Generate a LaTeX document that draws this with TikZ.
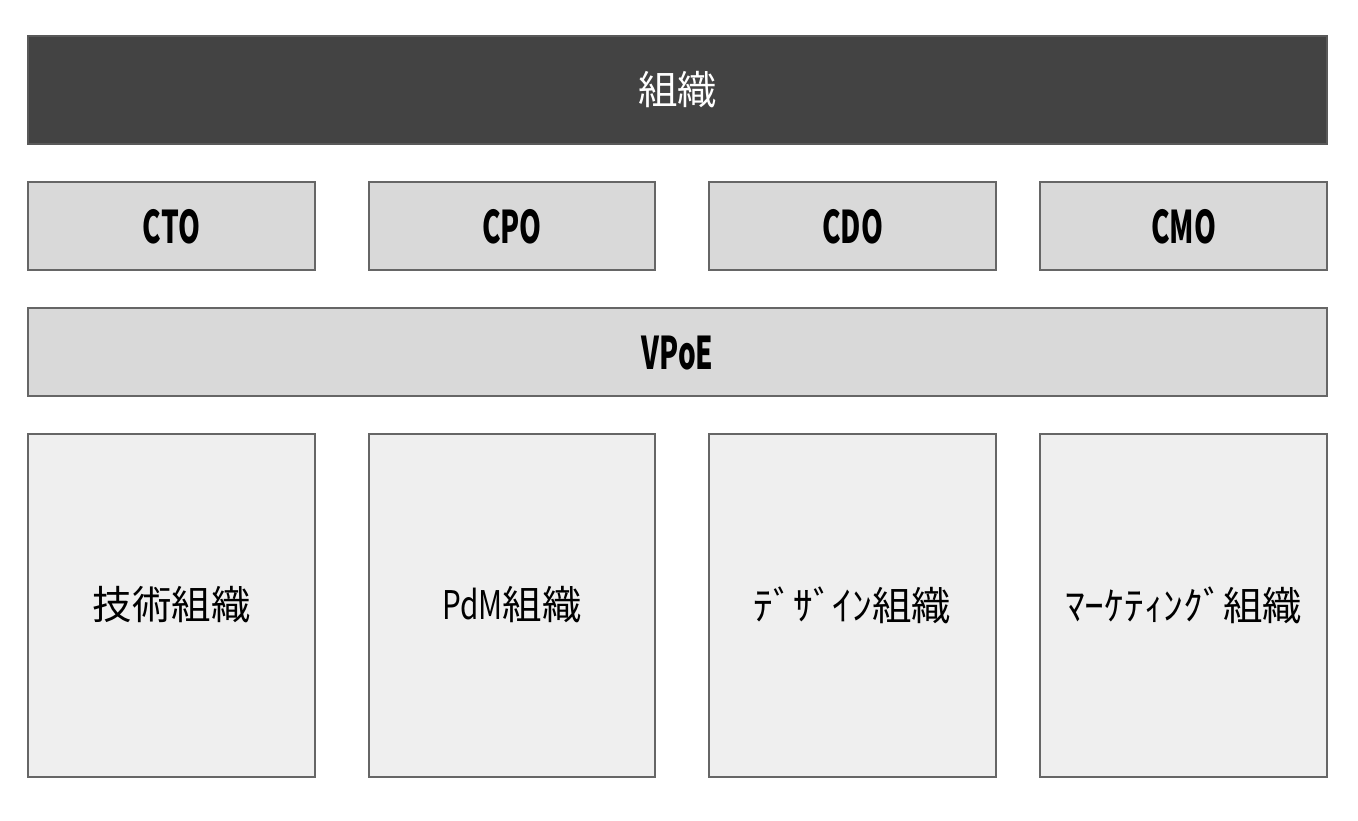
\documentclass[tikz,border=0pt]{standalone}
\usepackage{fontspec}
\setmainfont{Noto Sans CJK JP}
\definecolor{darkfill}{HTML}{434343}
\definecolor{darkline}{HTML}{595959}
\definecolor{midfill}{HTML}{D9D9D9}
\definecolor{lightfill}{HTML}{EFEFEF}
\definecolor{boxline}{HTML}{666666}
\newcommand{\narrow}[1]{\scalebox{0.62}[1]{#1}}
\begin{document}
\begin{tikzpicture}[x=1pt,y=-1pt,
  topbox/.style={draw=darkline,fill=darkfill,line width=1.5pt},
  midbox/.style={draw=boxline,fill=midfill,line width=1.5pt},
  lowbox/.style={draw=boxline,fill=lightfill,line width=1.5pt},
  jptext/.style={font=\fontsize{39.5}{42}\selectfont},
  lattext/.style={font=\fontsize{45}{48}\selectfont\bfseries}]
\useasboundingbox (0,0) rectangle (1358,820);
\fill[white] (0,0) rectangle (1358,820);
\draw[topbox] (28,36) rectangle (1327,144);
\node[jptext,text=white] (org) at (677.5,90) {組織};
\foreach \name/\lx/\rx/\txt in {cto/28/315/CTO,cpo/369/655/CPO,cdo/709/996/CDO,cmo/1040/1327/CMO}{
  \draw[midbox] (\lx,182) rectangle (\rx,270);
  \node[lattext] (\name) at ({(\lx+\rx)/2},227) {\narrow{\txt}};
}
\draw[midbox] (28,308) rectangle (1327,396);
\node[lattext] (vpoe) at (677.5,353) {\narrow{VPoE}};
\draw[lowbox] (28,434) rectangle (315,777);
\draw[lowbox] (369,434) rectangle (655,777);
\draw[lowbox] (709,434) rectangle (996,777);
\draw[lowbox] (1040,434) rectangle (1327,777);
\node[jptext] (tech) at (171.5,605) {技術組織};
\node[jptext] (pdm) at (512,605) {\scalebox{0.75}[1]{PdM}組織};
\node[jptext] (design) at (852.5,605) {ﾃﾞｻﾞｲﾝ組織};
\node[jptext] (mkt) at (1183.5,605) {ﾏｰｹﾃｨﾝｸﾞ組織};
\end{tikzpicture}
\end{document}
